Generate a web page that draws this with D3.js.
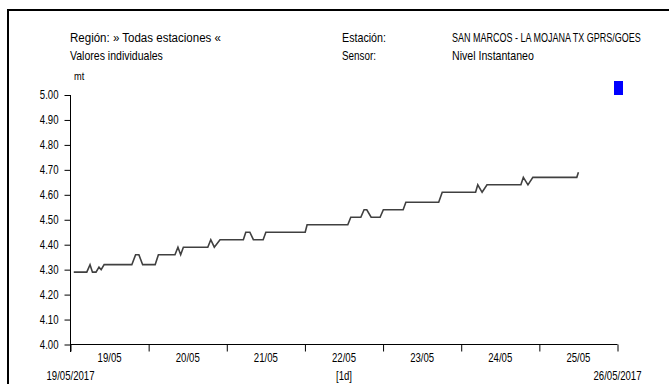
<!DOCTYPE html>
<html><head><meta charset="utf-8">
<script src="https://cdn.jsdelivr.net/npm/d3@7"></script>
<style>
body{margin:0;background:#fff;}
svg{display:block;}
text{font-family:"Liberation Sans",Arial,sans-serif;fill:#000;}
</style></head><body>
<svg id="c" width="669" height="384"></svg>
<script>
const headerLeft = ["Región: » Todas estaciones «", "Valores individuales"];
const headerMidLabels = ["Estación:", "Sensor:"];
const headerMidValues = ["SAN MARCOS - LA MOJANA TX GPRS/GOES", "Nivel Instantaneo"];
const unitLabel = "mt";
const yTicks = [4.0,4.1,4.2,4.3,4.4,4.5,4.6,4.7,4.8,4.9,5.0];
const dayLabels = ["19/05","20/05","21/05","22/05","23/05","24/05","25/05"];
const startLabel = "19/05/2017";
const endLabel = "26/05/2017";
const intervalLabel = "[1d]";
const times = [
"2017-05-19T01:00","2017-05-19T05:00","2017-05-19T06:00","2017-05-19T06:45","2017-05-19T07:50",
"2017-05-19T08:45","2017-05-19T09:25","2017-05-19T10:20","2017-05-19T18:50","2017-05-19T20:00",
"2017-05-19T21:00","2017-05-19T22:10","2017-05-20T02:00","2017-05-20T03:00","2017-05-20T08:05",
"2017-05-20T09:00","2017-05-20T09:50","2017-05-20T10:40","2017-05-20T18:10","2017-05-20T19:05",
"2017-05-20T20:10","2017-05-20T21:55","2017-05-21T05:05","2017-05-21T05:50","2017-05-21T07:05",
"2017-05-21T08:10","2017-05-21T11:10","2017-05-21T12:00","2017-05-22T00:05","2017-05-22T00:40",
"2017-05-22T13:10","2017-05-22T14:05","2017-05-22T17:10","2017-05-22T18:10","2017-05-22T19:00",
"2017-05-22T20:20","2017-05-22T23:05","2017-05-23T00:05","2017-05-23T06:10","2017-05-23T07:00",
"2017-05-23T17:05","2017-05-23T18:10","2017-05-24T04:25","2017-05-24T05:05","2017-05-24T06:25",
"2017-05-24T07:55","2017-05-24T18:20","2017-05-24T19:05","2017-05-24T20:30","2017-05-24T22:00",
"2017-05-25T11:30","2017-05-25T12:00"];
const levels = [
4.29,4.29,4.32,4.29,4.29,
4.31,4.30,4.32,4.32,4.36,
4.36,4.32,4.32,4.36,4.36,
4.39,4.36,4.39,4.39,4.42,
4.39,4.42,4.42,4.45,4.45,
4.42,4.42,4.45,4.45,4.48,
4.48,4.51,4.51,4.54,4.54,
4.51,4.51,4.54,4.54,4.57,
4.57,4.61,4.61,4.64,4.61,
4.64,4.64,4.67,4.64,4.67,
4.67,4.69];

const parse = d3.timeParse("%Y-%m-%dT%H:%M");
const data = times.map((t,i)=>({t:parse(t), v:levels[i]}));
const t0 = parse("2017-05-19T00:00"), t1 = parse("2017-05-26T00:00");

const svg = d3.select("#c");
const x = d3.scaleTime().domain([t0,t1]).range([70.5,617.5]);
const y = d3.scaleLinear().domain([4.0,5.0]).range([344.5,95]);
const SX = 0.8;

function txt(parent, s, px, py, anchor, size){
  parent.append("text")
    .attr("transform",`translate(${px},${py}) scale(${SX},1)`)
    .attr("text-anchor",anchor||"start")
    .style("font-size",(size||12)+"px")
    .text(s);
}
function fit(parent, s, px, py, w){
  const t = parent.append("text").style("font-size","12.5px").text(s);
  const nat = t.node().getComputedTextLength();
  t.attr("transform",`translate(${px},${py}) scale(${w/nat},1)`);
}

// frame
svg.append("path").attr("d","M8,400V10H680").attr("fill","none").attr("stroke","#000").attr("stroke-width",2);

// header
const leftW = [151, 93], midW = [44, 34], valW = [189, 82];
headerLeft.forEach((s,i)=>fit(svg,s,70,42+i*18,leftW[i]));
headerMidLabels.forEach((s,i)=>fit(svg,s,342,42+i*18,midW[i]));
headerMidValues.forEach((s,i)=>fit(svg,s,452,42+i*18,valW[i]));
txt(svg,unitLabel,74,80,"start",11.5);

// legend square
svg.append("rect").attr("x",614).attr("y",81).attr("width",9).attr("height",14).attr("fill","#0000ff");

// y axis
const yAxis = svg.append("g").attr("transform","translate(70.5,0)")
  .call(d3.axisLeft(y).tickValues(yTicks).tickFormat(d3.format(".2f")).tickSize(6).tickPadding(6));
yAxis.select(".domain").attr("d","M0,95V352");
yAxis.selectAll("line").attr("stroke","#000");
yAxis.selectAll(".tick text").each(function(){
  const t = d3.select(this);
  const xx = +t.attr("x");
  t.attr("x",null).attr("transform",`translate(${xx},0) scale(${SX},1)`)
   .style("font-size","12px").style("font-family",'"Liberation Sans",Arial,sans-serif');
});

// x axis
const days = d3.timeDay.range(t0, d3.timeDay.offset(t1,1));
const xAxis = svg.append("g").attr("transform","translate(0,344.5)")
  .call(d3.axisBottom(x).tickValues(days).tickFormat("").tickSize(7).tickSizeOuter(0));
xAxis.select(".domain").attr("d","M70.5,0H617.5");
xAxis.selectAll("line").attr("stroke","#000");

dayLabels.forEach((s,i)=>{
  const mid = d3.timeHour.offset(d3.timeDay.offset(t0,i),12);
  txt(svg,s,x(mid),362,"middle",12);
});
txt(svg,startLabel,x(t0),380,"middle",12);
txt(svg,endLabel,x(t1),380,"middle",12);
txt(svg,intervalLabel,(x(t0)+x(t1))/2,380,"middle",12);

// line
svg.append("path").datum(data)
  .attr("d", d3.line().x(d=>x(d.t)).y(d=>y(d.v)))
  .attr("fill","none").attr("stroke","#404040").attr("stroke-width",1.6);
</script>
</body></html>
